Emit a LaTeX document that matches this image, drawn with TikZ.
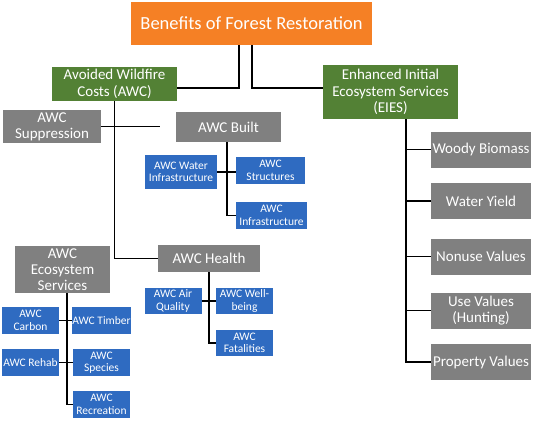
\documentclass[tikz,border=0pt]{standalone}
\usepackage{fontspec}
\setmainfont{Carlito}
\definecolor{restorange}{HTML}{F58025}
\definecolor{restgreen}{HTML}{538135}
\definecolor{restgrey}{HTML}{808080}
\definecolor{restblue}{HTML}{2F6BC1}
\tikzset{
	box/.style={fill=#1, text=white, align=center, inner sep=0pt},
	titlebox/.style={box=restorange, minimum width=241pt, minimum height=43pt, font=\fontsize{18.5}{20}\selectfont},
	costbox/.style={box=restgreen, font=\fontsize{15}{16.5}\selectfont},
	greybox/.style={box=restgrey, font=\fontsize{15}{16}\selectfont},
	eiesbox/.style={greybox, minimum width=100pt, minimum height=36pt},
	bluebox/.style={box=restblue, minimum width=57pt, minimum height=27pt, font=\fontsize{11.5}{12.5}\selectfont},
	link/.style={line width=1.5pt}
}
\begin{document}
\begin{tikzpicture}[x=1pt,y=-1pt]
		\useasboundingbox (0,0) rectangle (534,421);
		% top level
		\node[titlebox] (title) at (251.5,23.5) {Benefits of Forest Restoration};
		\node[costbox, minimum width=125pt, minimum height=34pt] (awc) at (114.5,84) {Avoided Wildfire\\Costs (AWC)};
		\node[costbox, minimum width=135pt, minimum height=54pt] (eies) at (390.5,92) {Enhanced Initial\\Ecosystem Services\\(EIES)};
		
		% avoided wildfire costs
		\node[greybox, minimum width=98pt, minimum height=33pt] (supp) at (52,126.5) {AWC\\Suppression};
		\node[greybox, minimum width=105pt, minimum height=30pt] (built) at (228.5,127) {AWC Built};
		\node[greybox, minimum width=102pt, minimum height=27pt] (health) at (209,258.5) {AWC Health};
		\node[greybox, minimum width=95pt, minimum height=47pt] (eco) at (62.5,269.5) {AWC\\Ecosystem\\Services};
		
		\node[bluebox, minimum width=72pt, minimum height=34pt] (waterinfra) at (181,172) {AWC Water\\Infrastructure};
		\node[bluebox, minimum width=69pt] (struct) at (270.5,170.5) {AWC\\Structures};
		\node[bluebox, minimum width=71pt] (infra) at (271.5,215.5) {AWC\\Infrastructure};
		
		\node[bluebox, minimum height=26pt] (air) at (173,301) {AWC Air\\Quality};
		\node[bluebox, minimum height=26pt] (well) at (244.5,301) {AWC Well-\\being};
		\node[bluebox, minimum height=26pt] (fatal) at (244.5,343) {AWC\\Fatalities};
		
		\node[bluebox] (carbon) at (30.5,320.5) {AWC\\Carbon};
		\node[bluebox] (timber) at (101.5,320.5) {AWC Timber};
		\node[bluebox] (rehab) at (30.5,362.5) {AWC Rehab};
		\node[bluebox] (species) at (101.5,362.5) {AWC\\Species};
		\node[bluebox] (recr) at (101.5,404.5) {AWC\\Recreation};
		
		% enhanced initial ecosystem services
		\foreach \n/\y/\t in {woody/149.5/Woody Biomass, water/201/Water Yield, nonuse/256.5/Nonuse Values, use/310.5/{Use Values\\(Hunting)}, prop/362/Property Values}{
			\node[eiesbox] (\n) at (481,\y) {\t};
		}
		
		% connectors
		\draw[link] ([xshift=-12.5pt]title.south) |- ([yshift=-4pt]awc.east);
		\draw[link] ([xshift=0.5pt]title.south) |- ([yshift=4pt]eies.west);
		\draw[link] (awc.south) |- (health.west);
		\draw[link] (supp.east) -- ([xshift=-16pt]built.west |- supp.east);
		\draw[link] ([xshift=-1.5pt]built.south) |- (infra.west);
		\draw[link] (waterinfra.east) -- (waterinfra.east -| struct.west);
		\draw[link] (health.south) |- (fatal.west);
		\draw[link] (air.east) -- (well.west);
		\draw[link] ([xshift=4.5pt]eco.south) |- (recr.west);
		\draw[link] (carbon.east) -- (timber.west);
		\draw[link] (rehab.east) -- (species.west);
		\foreach \n in {woody,water,nonuse,use,prop}{
			\draw[link] ([xshift=15.5pt]eies.south) |- (\n.west);
		}
		\end{tikzpicture}
\end{document}
